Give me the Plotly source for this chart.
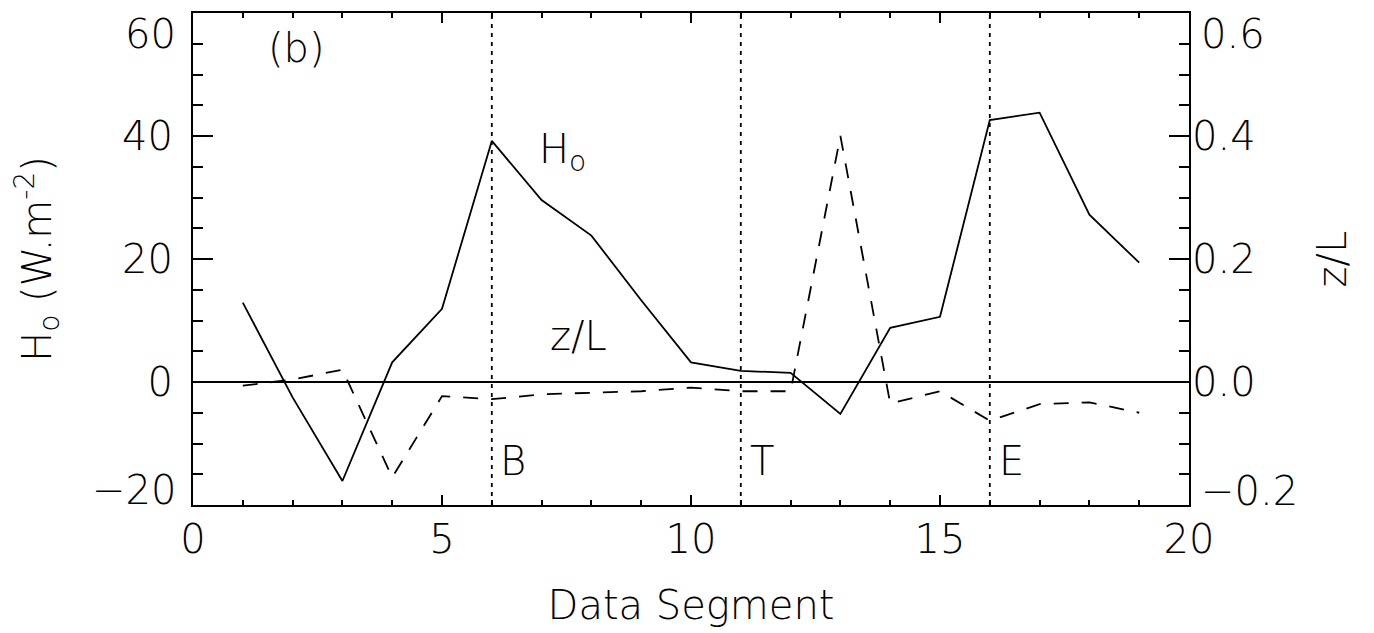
import plotly.graph_objects as go

segment = list(range(1, 20))
heat_flux = [12.9, -2.5, -16.1, 3.2, 11.9, 39.2, 29.6, 23.8, 13.3, 3.2,
             1.8, 1.5, -5.2, 8.8, 10.6, 42.6, 43.8, 27.2, 19.4]
z_over_L = [-0.006, 0.004, 0.02, -0.155, -0.023, -0.028, -0.02, -0.018, -0.015, -0.009,
            -0.015, -0.015, 0.40, -0.035, -0.015, -0.063, -0.036, -0.033, -0.05]
boundaries = [6, 11, 16]
boundary_labels = ["B", "T", "E"]

h_ticks = [-20, 0, 20, 40, 60]
h_ticktext = ["", "0", "20", "40", ""]
z_ticks = [-0.2, 0.0, 0.2, 0.4, 0.6]
z_ticktext = ["", "0.0", "0.2", "0.4", ""]

FONT = "DejaVu Sans"
fs = 40
fnt = dict(family=FONT, size=fs, color="black", weight=200)

fig = go.Figure()
fig.add_trace(go.Scatter(x=segment, y=heat_flux, mode="lines",
                         line=dict(color="black", width=1.8), yaxis="y", showlegend=False))
fig.add_trace(go.Scatter(x=segment, y=z_over_L, mode="lines",
                         line=dict(color="black", width=1.8, dash="15px,13px"),
                         yaxis="y2", showlegend=False))

shapes = []
for b in boundaries:
    shapes.append(dict(type="line", xref="x", yref="paper", x0=b, x1=b, y0=0, y1=1,
                       line=dict(color="black", width=1.8, dash="4px,5px")))
shapes.append(dict(type="line", xref="paper", yref="y", x0=0, x1=1, y0=0, y1=0,
                   line=dict(color="black", width=2)))

annotations = []
for b, t in zip(boundaries, boundary_labels):
    annotations.append(dict(x=b + 0.43, y=-12.8, xref="x", yref="y", text=t,
                            showarrow=False, font=fnt))
annotations.append(dict(x=2.07, y=54.3, xref="x", yref="y", text="(b)",
                        showarrow=False, font=fnt))
annotations.append(dict(x=7.42, y=37.4, xref="x", yref="y", text="H<sub>o</sub>",
                        showarrow=False, font=fnt))
annotations.append(dict(x=7.75, y=7.4, xref="x", yref="y", text="z/L",
                        showarrow=False, font=fnt))
# end tick labels, nudged inward as in the reference
annotations.append(dict(x=0, y=1, xref="paper", yref="paper", text=str(h_ticks[-1]),
                        xanchor="right", yanchor="top", xshift=-15, yshift=4,
                        showarrow=False, font=fnt))
annotations.append(dict(x=0, y=h_ticks[0], xref="paper", yref="y", text="−" + str(abs(h_ticks[0])),
                        xanchor="right", yanchor="middle", xshift=-15, yshift=15,
                        showarrow=False, font=fnt))
annotations.append(dict(x=1, y=1, xref="paper", yref="paper", text="%.1f" % z_ticks[-1],
                        xanchor="left", yanchor="top", xshift=10, yshift=4,
                        showarrow=False, font=fnt))
annotations.append(dict(x=1, y=z_ticks[0], xref="paper", yref="y2", text="−%.1f" % abs(z_ticks[0]),
                        xanchor="left", yanchor="middle", xshift=10, yshift=14,
                        showarrow=False, font=fnt))

axis_common = dict(showgrid=False, zeroline=False, showline=True, linecolor="black",
                   linewidth=2, ticks="inside", tickcolor="black", tickwidth=1.6,
                   tickfont=fnt, automargin=False)

fig.update_layout(
    width=1366, height=625,
    margin=dict(l=185, r=185, t=5, b=128),
    paper_bgcolor="white", plot_bgcolor="white",
    shapes=shapes, annotations=annotations,
    xaxis=dict(range=[0, 20], dtick=5, tick0=0, ticklen=10, mirror="ticks",
               minor=dict(dtick=1, ticklen=5, ticks="inside", tickcolor="black", tickwidth=1.6),
               title=dict(text="Data Segment", font=fnt, standoff=30),
               ticklabelstandoff=-2, **axis_common),
    yaxis=dict(range=[-20, 60], tickvals=h_ticks, ticktext=h_ticktext, ticklen=20,
               minor=dict(dtick=5, ticklen=10, ticks="inside", tickcolor="black", tickwidth=1.6),
               title=dict(text="H<sub>o</sub> (W.m<sup>-2</sup>)", font=fnt, standoff=58),
               ticklabelstandoff=10, **axis_common),
    yaxis2=dict(range=[-0.2, 0.6], tickvals=z_ticks, ticktext=z_ticktext, ticklen=20,
                overlaying="y", side="right",
                minor=dict(dtick=0.05, ticklen=10, ticks="inside", tickcolor="black", tickwidth=1.6),
                title=dict(text="z/L", font=fnt, standoff=63),
                ticklabelstandoff=-7, **axis_common),
)

fig.write_html("out.html")
